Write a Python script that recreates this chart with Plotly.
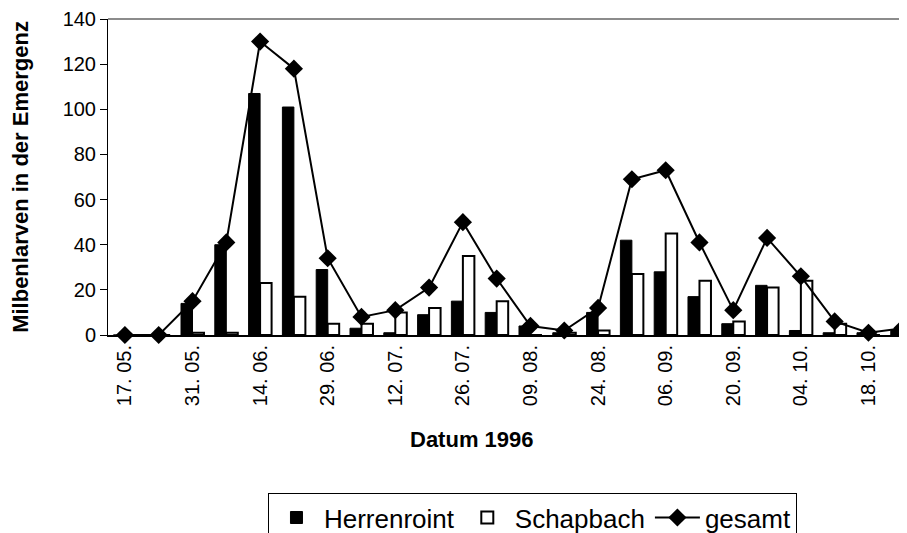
import plotly.graph_objects as go

categories = ["17. 05.", "24. 05.", "31. 05.", "07. 06.", "14. 06.", "21. 06.", "29. 06.", "05. 07.",
              "12. 07.", "19. 07.", "26. 07.", "02. 08.", "09. 08.", "16. 08.", "24. 08.", "31. 08.",
              "06. 09.", "13. 09.", "20. 09.", "27. 09.", "04. 10.", "11. 10.", "18. 10.", "25. 10."]
tick_labels = ["17. 05.", "31. 05.", "14. 06.", "29. 06.", "12. 07.", "26. 07.", "09. 08.",
               "24. 08.", "06. 09.", "20. 09.", "04. 10.", "18. 10."]
herrenroint = [0, 0, 14, 40, 107, 101, 29, 3, 1, 9, 15, 10, 4, 1, 10, 42, 28, 17, 5, 22, 2, 1, 1, 2]
schapbach = [0, 0, 1, 1, 23, 17, 5, 5, 10, 12, 35, 15, 0, 1, 2, 27, 45, 24, 6, 21, 24, 5, 0, 1]
gesamt = [0, 0, 15, 41, 130, 118, 34, 8, 11, 21, 50, 25, 4, 2, 12, 69, 73, 41, 11, 43, 26, 6, 1, 3]

x_title = "Datum 1996"
y_title = "Milbenlarven in der Emergenz"

x = list(range(len(categories)))
tickvals = [x[categories.index(t)] for t in tick_labels]
boundaries = [i - 0.5 for i in range(len(categories) + 1)]

FONT = "Liberation Sans, Arial, sans-serif"
xr = [-0.5, 23.14]
yr = [0, 140]

fig = go.Figure()
fig.add_trace(go.Bar(x=x, y=herrenroint, name="Herrenroint",
                     marker=dict(color="black", line=dict(color="black", width=1))))
fig.add_trace(go.Bar(x=x, y=schapbach, name="Schapbach",
                     marker=dict(color="white", line=dict(color="black", width=2))))
fig.add_trace(go.Scatter(x=x, y=gesamt, name="gesamt", mode="lines+markers",
                         line=dict(color="black", width=2),
                         marker=dict(symbol="diamond", size=14, color="black"),
                         cliponaxis=False))

# grey top border of the plot area
fig.add_shape(type="line", xref="paper", yref="paper", x0=0, x1=1, y0=1, y1=1,
              line=dict(color="#8c8c8c", width=2), layer="above")

# x-axis title (centred like the original chart, which is wider than the window)
fig.add_annotation(text="<b>" + x_title + "</b>", xref="paper", yref="paper",
                   x=0.4556, y=-0.332, xanchor="center", yanchor="middle",
                   showarrow=False, font=dict(size=22, family=FONT, color="black"))

# page body has an 8px margin; figure is sized so it ends at the window edge
fig.update_layout(
    width=899, height=525,
    margin=dict(l=100, r=0, t=11, b=198),
    paper_bgcolor="white", plot_bgcolor="white",
    font=dict(family=FONT, color="black", size=20),
    barmode="group", bargap=0.32, bargroupgap=0,
    showlegend=True,
    legend=dict(orientation="h", xref="container", yref="container",
                x=0.5834, xanchor="center", y=0.076, yanchor="top",
                bordercolor="black", borderwidth=1, font=dict(size=26, family=FONT),
                itemwidth=45, traceorder="normal", bgcolor="white"),
    xaxis=dict(range=xr, tickmode="array", tickvals=tickvals, ticktext=tick_labels,
               tickangle=-90, ticks="", showgrid=False, zeroline=False, automargin=False,
               showline=True, linecolor="black", linewidth=2,
               tickfont=dict(size=20, family=FONT)),
    xaxis2=dict(overlaying="x", anchor="y", range=xr, tickmode="array", tickvals=boundaries,
                ticks="outside", ticklen=6, tickcolor="black", tickwidth=1, automargin=False,
                showticklabels=False, showgrid=False, zeroline=False, showline=False),
    xaxis3=dict(overlaying="x", anchor="y", range=xr, tickmode="array", tickvals=boundaries,
                ticks="inside", ticklen=5, tickcolor="black", tickwidth=1, automargin=False,
                showticklabels=False, showgrid=False, zeroline=False, showline=False),
    yaxis=dict(range=yr, dtick=20, ticks="outside", ticklen=7, tickcolor="black",
               showgrid=False, zeroline=False, showline=True, linecolor="black", linewidth=1,
               automargin=False, tickfont=dict(size=20, family=FONT),
               title=dict(text="<b>" + y_title + "</b>",
                          font=dict(size=22, family=FONT), standoff=33)),
    yaxis2=dict(overlaying="y", anchor="x", range=yr, dtick=20, ticks="inside", ticklen=4,
                tickcolor="black", showticklabels=False, showgrid=False, zeroline=False,
                showline=False, automargin=False),
)

fig.write_html("out.html")
